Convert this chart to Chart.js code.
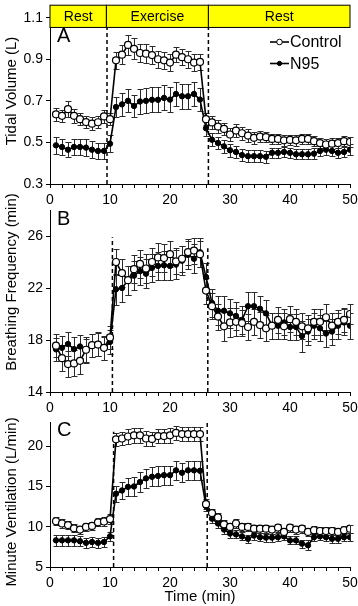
<!DOCTYPE html>
<html>
<head>
<meta charset="utf-8">
<script src="https://cdn.jsdelivr.net/npm/chart.js@4.4.1/dist/chart.umd.min.js"></script>
<style>
  html, body { margin: 0; padding: 0; background: #fff; }
  #wrap { position: relative; width: 358px; height: 606px; overflow: hidden; }
  canvas { position: absolute; left: 0; }
</style>
</head>
<body>
<div id="wrap">
  <canvas id="chartA" width="358" height="212" style="top:0px"></canvas>
  <canvas id="chartB" width="358" height="234" style="top:186px"></canvas>
  <canvas id="chartC" width="358" height="196" style="top:410px"></canvas>
</div>
<script>
// time points (min)
const minutes = [1,2,3,4,5,6,7,8,9,10,11,12,13,14,15,16,17,18,19,20,21,22,23,24,25,
                 26,27,28,29,30,31,32,33,34,35,36,37,38,39,40,41,42,43,44,45,46,47,48,49,50]
const xTicks = [0,2,4,6,8,10,12,14,16,18,20,22,24,26,28,30,32,34,36,38,40,42,44,46,48,50]

// phases shown in the header of panel A
const phaseLabels = ['Rest', 'Exercise', 'Rest']
const phaseEdges = [0, 9.4, 26.4, 50]

// A - tidal volume (L)
const tvControl = [0.635,0.628,0.66,0.628,0.612,0.598,0.59,0.597,0.625,0.612,
  0.895,0.922,0.969,0.95,0.93,0.927,0.92,0.90,0.895,0.884,
  0.922,0.91,0.90,0.884,0.887,0.612,0.596,0.576,0.565,0.538,
  0.557,0.544,0.533,0.522,0.528,0.525,0.517,0.517,0.51,0.512,
  0.51,0.517,0.517,0.506,0.497,0.49,0.494,0.497,0.506,0.502]
const tvControlErr = [0.03,0.03,0.04,0.035,0.03,0.03,0.03,0.03,0.03,0.03,
  0.04,0.045,0.05,0.05,0.045,0.045,0.045,0.04,0.04,0.04,0.035,0.04,0.04,0.04,0.04,
  0.03,0.03,0.03,0.03,0.03,0.03,0.03,0.03,0.03,0.025,0.025,0.025,0.025,0.025,0.025,
  0.025,0.025,0.025,0.025,0.025,0.025,0.025,0.025,0.025,0.025]
const tvN95 = [0.486,0.478,0.465,0.478,0.478,0.475,0.465,0.459,0.459,0.494,
  0.67,0.683,0.70,0.675,0.697,0.70,0.705,0.705,0.714,0.706,
  0.733,0.722,0.722,0.733,0.706,0.568,0.513,0.497,0.481,0.462,
  0.454,0.439,0.434,0.434,0.434,0.431,0.45,0.45,0.454,0.45,
  0.443,0.443,0.443,0.446,0.459,0.465,0.459,0.45,0.454,0.465]
const tvN95Err = [0.04,0.04,0.035,0.04,0.04,0.04,0.04,0.04,0.04,0.04,
  0.05,0.055,0.055,0.055,0.06,0.06,0.06,0.06,0.06,0.06,0.06,0.06,0.06,0.06,0.055,
  0.035,0.03,0.03,0.03,0.03,0.03,0.03,0.03,0.03,0.03,0.03,0.025,0.025,0.025,0.025,
  0.025,0.025,0.025,0.025,0.025,0.025,0.025,0.025,0.025,0.025]

// B - breathing frequency
const bfControl = [17.56,16.6,16.15,16.2,16.4,17.25,17.6,17.65,17.4,18.2,
  24.0,23.15,22.6,23.45,23.85,23.5,24.0,24.35,24.3,24.6,
  24.05,24.25,24.76,24.88,24.6,21.8,20.6,19.8,19.05,19.35,
  19.4,19.3,19.0,19.4,19.15,18.9,19.1,19.55,19.05,19.6,
  19.4,19.05,18.9,19.4,19.4,19.75,19.1,19.4,19.55,20.0]
const bfControlErr = [0.9,1.0,1.0,1.0,1.0,1.0,0.9,0.9,0.9,0.9,
  1.0,1.1,1.1,1.1,1.1,1.1,1.1,1.1,1.1,1.0,1.0,1.0,1.0,1.0,1.0,
  1.0,1.0,1.0,1.1,1.1,1.1,1.0,1.0,1.0,1.0,1.0,1.0,1.0,1.0,1.0,
  1.0,1.0,1.0,1.0,1.0,1.0,1.0,0.9,0.9,0.8]
const bfN95 = [17.28,17.4,17.69,17.3,17.5,17.2,17.6,17.7,17.35,17.85,
  21.9,22.0,22.6,22.95,23.3,23.1,23.55,23.7,23.75,23.7,
  23.8,24.1,24.55,24.25,24.75,22.85,20.85,20.25,20.25,20.05,
  19.85,19.55,20.6,20.6,20.4,20.05,19.1,19.1,19.35,19.0,
  19.0,18.3,18.65,19.1,18.9,18.5,18.65,19.1,19.35,19.1]
const bfN95Err = [0.9,0.9,0.9,0.9,0.9,0.9,0.9,0.9,0.9,0.9,
  1.2,1.1,1.1,1.1,1.1,1.1,1.1,1.1,1.1,1.1,1.1,1.1,1.1,1.1,1.1,
  1.1,1.1,1.1,1.1,1.1,1.1,1.1,1.1,1.1,1.0,1.0,1.0,1.0,1.0,1.0,
  1.0,1.2,1.0,1.0,1.0,1.0,1.0,1.0,1.0,1.0]

// C - minute ventilation (L/min)
const mvControl = [10.68,10.4,10.2,9.8,9.65,9.97,10.1,10.55,10.65,10.95,
  20.85,20.95,21.2,21.35,21.35,20.95,20.9,21.25,21.25,21.35,
  21.65,21.5,21.5,21.5,21.5,12.8,11.7,11.15,10.3,9.97,
  10.4,9.97,9.97,9.76,9.76,9.76,9.64,9.89,9.35,9.89,
  9.64,9.76,9.35,9.56,9.47,9.47,9.47,9.35,9.56,9.76]
const mvControlErr = [0.5,0.5,0.5,0.5,0.5,0.5,0.5,0.5,0.5,0.6,
  0.8,0.8,0.9,0.9,0.9,0.9,0.9,0.9,0.9,0.9,0.9,0.9,0.9,0.9,0.9,
  0.6,0.5,0.5,0.5,0.5,0.5,0.5,0.5,0.5,0.5,0.5,0.5,0.5,0.5,0.5,
  0.5,0.5,0.5,0.5,0.5,0.5,0.5,0.5,0.5,0.5]
const mvN95 = [8.31,8.31,8.31,8.31,8.2,8.0,8.1,8.0,8.1,8.8,
  14.1,14.5,14.95,15.0,15.55,16.0,16.2,16.3,16.4,16.4,
  17.0,16.7,17.0,17.0,16.95,12.55,11.0,10.4,9.65,9.15,
  9.05,8.8,8.5,8.9,8.7,8.65,8.65,8.7,8.8,8.3,
  8.3,7.9,7.7,8.7,8.8,8.7,8.5,8.5,8.7,8.7]
const mvN95Err = [0.65,0.65,0.65,0.65,0.65,0.65,0.65,0.65,0.65,0.6,
  1.0,1.1,1.1,1.2,1.2,1.2,1.2,1.2,1.2,1.2,1.2,1.2,1.2,1.2,1.2,
  0.6,0.5,0.5,0.5,0.5,0.5,0.5,0.5,0.5,0.5,0.5,0.5,0.5,0.5,0.5,
  0.5,0.5,0.6,0.5,0.5,0.5,0.5,0.5,0.5,0.5]

const FONT = 'Liberation Sans, Arial, sans-serif'

const toPoints = vals => minutes.map((m, i) => ({ x: m, y: vals[i] }))

const makeDatasets = (ctrl, ctrlErr, n95, n95Err) => [
  {
    label: 'Control', data: toPoints(ctrl), err: ctrlErr,
    borderColor: '#000', borderWidth: 1.6, tension: 0,
    pointRadius: 3.5, pointBackgroundColor: '#fff', pointBorderColor: '#000', pointBorderWidth: 1.2
  },
  {
    label: 'N95', data: toPoints(n95), err: n95Err,
    borderColor: '#000', borderWidth: 1.6, tension: 0,
    pointRadius: 2.7, pointBackgroundColor: '#000', pointBorderColor: '#000', pointBorderWidth: 1
  }
]

// whiskers, drawn with the chart's own scales
const errorBars = {
  id: 'errorBars',
  beforeDatasetsDraw(chart) {
    const { ctx, scales: { x, y } } = chart
    ctx.save()
    ctx.strokeStyle = '#2a2a2a'
    ctx.lineWidth = 1
    chart.data.datasets.forEach(ds => {
      ds.data.forEach((p, i) => {
        const px = Math.round(x.getPixelForValue(p.x)) + 0.5
        const hi = Math.round(y.getPixelForValue(p.y + ds.err[i])) + 0.5
        const lo = Math.round(y.getPixelForValue(p.y - ds.err[i])) + 0.5
        ctx.beginPath()
        ctx.moveTo(px, hi); ctx.lineTo(px, lo)
        ctx.moveTo(px - 3, hi); ctx.lineTo(px + 3, hi)
        ctx.moveTo(px - 3, lo); ctx.lineTo(px + 3, lo)
        ctx.stroke()
      })
    })
    ctx.restore()
  }
}

// panel letter, y title, dashed phase lines, header band, legend
const decor = {
  id: 'decor',
  beforeDatasetsDraw(chart, args, opts) {
    const { ctx, chartArea, scales: { x, y } } = chart
    ctx.save()
    ctx.strokeStyle = '#000'
    ctx.lineWidth = 1.5
    ctx.setLineDash([4, 3])
    opts.dashes.forEach(d => {
      const px = x.getPixelForValue(d.x)
      ctx.beginPath()
      ctx.moveTo(px, chartArea.bottom)
      ctx.lineTo(px, y.getPixelForValue(d.top))
      ctx.stroke()
    })
    ctx.restore()
  },
  afterDraw(chart, args, opts) {
    const { ctx, chartArea, scales: { x, y } } = chart
    ctx.save()
    ctx.fillStyle = '#000'
    // panel letter
    ctx.font = '20px ' + FONT
    ctx.textAlign = 'left'
    ctx.textBaseline = 'middle'
    ctx.fillText(opts.letter, 57, opts.letterY)
    // y title
    ctx.save()
    ctx.translate(12, opts.titleY)
    ctx.rotate(-Math.PI / 2)
    ctx.font = '15px ' + FONT
    ctx.textAlign = 'center'
    ctx.fillText(opts.title, 0, 0)
    ctx.restore()

    if (opts.band) {
      const yb = y.getPixelForValue(opts.band)
      ctx.font = '14px ' + FONT
      ctx.textAlign = 'center'
      for (let i = 0; i < phaseLabels.length; i++) {
        const x0 = x.getPixelForValue(phaseEdges[i])
        const x1 = x.getPixelForValue(phaseEdges[i + 1])
        ctx.fillStyle = '#ffff00'
        ctx.fillRect(x0, chartArea.top, x1 - x0, yb - chartArea.top)
        ctx.strokeStyle = '#000'
        ctx.lineWidth = 1
        ctx.strokeRect(x0, chartArea.top, x1 - x0, yb - chartArea.top)
        ctx.fillStyle = '#000'
        ctx.fillText(phaseLabels[i], (x0 + x1) / 2, (chartArea.top + yb) / 2 + 1)
      }
    }

    if (opts.legend) {
      ctx.font = '16px ' + FONT
      ctx.textAlign = 'left'
      chart.data.datasets.forEach((ds, i) => {
        const ly = 42 + i * 21.5
        ctx.strokeStyle = '#000'
        ctx.lineWidth = 1.6
        ctx.beginPath()
        ctx.moveTo(270, ly); ctx.lineTo(289, ly)
        ctx.stroke()
        ctx.beginPath()
        ctx.arc(279.5, ly, ds.pointRadius * 0.8, 0, Math.PI * 2)
        ctx.fillStyle = ds.pointBackgroundColor
        ctx.fill()
        ctx.lineWidth = 1
        ctx.stroke()
        ctx.fillStyle = '#000'
        ctx.fillText(ds.label, 290, ly + 1)
      })
    }
    ctx.restore()
  }
}

const makeChart = (id, datasets, yMin, yMax, yTicks, decorOpts, padTop, xHeight, xTitle) => {
  return new Chart(document.getElementById(id), {
    type: 'line',
    data: { datasets: datasets },
    plugins: [errorBars, decor],
    options: {
      responsive: false,
      animation: false,
      layout: { padding: { top: padTop, right: 8, left: 0, bottom: 0 } },
      plugins: {
        legend: { display: false },
        tooltip: { enabled: false },
        decor: decorOpts
      },
      scales: {
        x: {
          type: 'linear', min: 0, max: 50,
          afterBuildTicks: s => { s.ticks = xTicks.map(v => ({ value: v })) },
          afterFit: s => { s.height = xHeight; s.paddingLeft = 0; s.paddingRight = 0 },
          ticks: {
            callback: v => (v % 10 === 0 ? v : ''),
            autoSkip: false, maxRotation: 0, padding: 4,
            color: '#000', font: { family: FONT, size: 14 }
          },
          grid: { drawOnChartArea: false, tickLength: 4, color: '#000' },
          border: { color: '#000', width: 1 },
          title: {
            display: !!xTitle, text: xTitle || '', color: '#000',
            font: { family: FONT, size: 15 }, padding: { top: 0, bottom: 0 }
          }
        },
        y: {
          min: yMin, max: yMax,
          afterBuildTicks: s => { s.ticks = yTicks.map(v => ({ value: v })) },
          afterFit: s => { s.width = 50; s.paddingTop = 0; s.paddingBottom = 0 },
          ticks: { padding: 3, color: '#000', font: { family: FONT, size: 14 } },
          grid: { drawOnChartArea: false, tickLength: 4, color: '#000' },
          border: { color: '#000', width: 1 }
        }
      }
    }
  })
}

makeChart('chartA', makeDatasets(tvControl, tvControlErr, tvN95, tvN95Err),
  0.3, 1.16, [0.3, 0.5, 0.7, 0.9, 1.1],
  { letter: 'A', letterY: 36, title: 'Tidal Volume (L)', titleY: 91,
    dashes: [{ x: 9.5, top: 1.053 }, { x: 26.4, top: 1.053 }], band: 1.053, legend: true },
  2, 28)

makeChart('chartB', makeDatasets(bfControl, bfControlErr, bfN95, bfN95Err),
  14, 28, [14, 18, 22, 26],
  { letter: 'B', letterY: 33, title: 'Breathing Frequency (min)', titleY: 96,
    dashes: [{ x: 10.4, top: 25.9 }, { x: 26.3, top: 25.05 }] },
  24, 28)

makeChart('chartC', makeDatasets(mvControl, mvControlErr, mvN95, mvN95Err),
  5, 23, [5, 10, 15, 20],
  { letter: 'C', letterY: 20, title: 'Minute Ventilation (L/min)', titleY: 92,
    dashes: [{ x: 10.6, top: 21.8 }, { x: 26.2, top: 22.9 }] },
  12, 39, 'Time (min)')
</script>
</body>
</html>
